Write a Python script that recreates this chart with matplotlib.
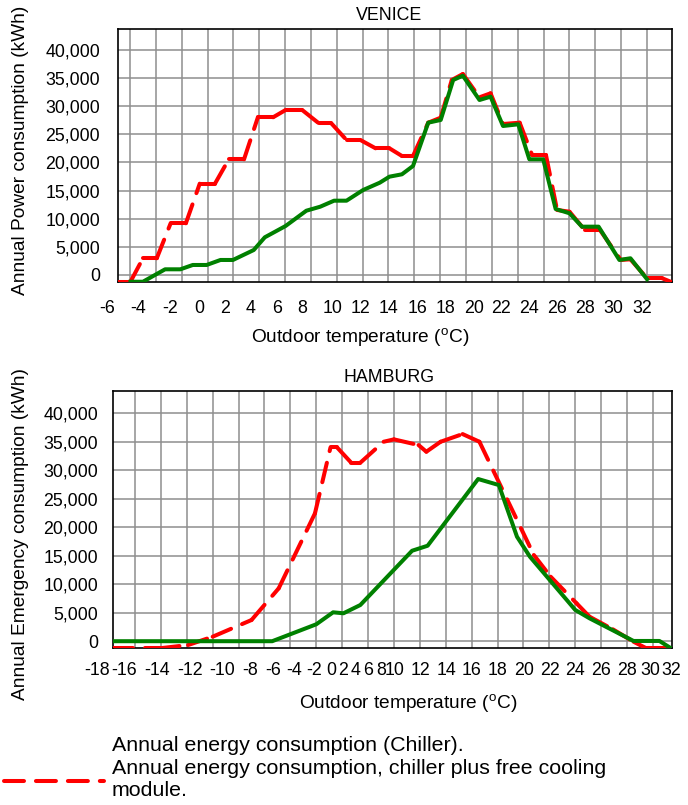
import numpy as np
import matplotlib.pyplot as plt
from matplotlib.lines import Line2D
from matplotlib.ticker import FuncFormatter

plt.rcParams['font.family'] = ['Liberation Sans', 'DejaVu Sans']
plt.rcParams['mathtext.fontset'] = 'custom'
plt.rcParams['mathtext.rm'] = 'Liberation Sans'
plt.rcParams['lines.scale_dashes'] = False

# Venice: chiller only (red dashed) and chiller + free cooling (green)
venice_t_chiller = [-6.0, -5.1, -4.2, -3.2, -2.2, -1.1, -0.1, 1.0, 2.0, 3.1,
                    4.1, 5.2, 6.1, 7.3, 8.5, 9.4, 10.5, 11.5, 12.6, 13.6,
                    14.5, 15.3, 16.4, 17.3, 18.1, 18.9, 20.1, 20.9, 21.8,
                    23.0, 23.9, 24.9, 25.7, 26.6, 27.7, 28.8, 30.3, 31.0,
                    32.2, 33.3, 34.0]
venice_chiller = [-1200, -1200, 2970, 2970, 9190, 9190, 16230, 16230, 20570, 20570,
                  28040, 28040, 29330, 29330, 26970, 26970, 24000, 24000, 22520, 22520,
                  21160, 21160, 27080, 27970, 34670, 35730, 31590, 32300, 26840,
                  27080, 21330, 21330, 11560, 11250, 8000, 8000, 2670, 2790,
                  -590, -590, -1300]
venice_t_free = [-5.1, -4.2, -2.6, -1.5, -0.6, 0.4, 1.4, 2.3, 3.8, 4.6,
                 6.1, 7.6, 8.6, 9.6, 10.5, 11.7, 12.9, 13.6, 14.5, 15.3,
                 16.4, 17.3, 18.2, 18.9, 20.1, 20.9, 21.8, 22.9, 23.7, 24.7,
                 25.6, 26.6, 27.5, 28.7, 30.2, 31.0, 32.2]
venice_free = [-1200, -1200, 1010, 1010, 1780, 1780, 2670, 2670, 4440, 6700,
               8710, 11430, 12140, 13210, 13210, 15110, 16410, 17480, 17900, 19380,
               27080, 27560, 34670, 35430, 31110, 31700, 26490, 26790, 20570, 20570,
               11730, 10970, 8590, 8590, 2670, 2970, -760]

# Hamburg
hamburg_t_chiller = [-11.7, -8.1, -5.9, -4.0, -1.0, 1.1, 3.9, 5.1, 5.6, 6.7,
                     7.4, 9.2, 10.0, 11.9, 12.5, 13.6, 15.3, 16.6, 20.8, 22.1,
                     24.1, 25.1, 26.9, 28.5, 29.4, 31.4]
hamburg_chiller = [-1250, -1250, -670, 790, 3720, 9280, 22450, 34030, 34030, 31330,
                   31330, 35010, 35430, 34430, 33260, 35010, 36360, 35010, 15130, 11320,
                   6650, 4300, 2090, -90, -1140, -1140]
hamburg_t_free = [-11.7, 0.6, 4.0, 5.3, 6.1, 7.4, 11.4, 12.6, 16.5, 18.1,
                  19.5, 20.5, 24.0, 25.1, 28.5, 30.5, 31.4]
hamburg_free = [0, 0, 2970, 5070, 4900, 6350, 15880, 16760, 28470, 27410,
                18340, 14830, 5480, 4020, 40, 40, -1250]

venice_labels = ['-6', '-4', '-2', '0', '2', '4', '6', '8', '10', '12', '14', '16',
                 '18', '20', '22', '24', '26', '28', '30', '32']
hamburg_labels = ['-18', '-16', '-14', '-12', '-10', '-8', '-6', '-4', '-2', '0', '2',
                  '4', '6', '8', '10', '12', '14', '16', '18', '20', '22', '24', '26',
                  '28', '30', '32']

# where the source put its x labels (pixels across the picture)
venice_label_px = [106.7, 138.3, 170, 199, 224.7, 250.7, 276.7, 301.7, 333, 360.7,
                   388.3, 417.7, 445.7, 474, 501, 529, 556.7, 585, 613.3, 642.3]
hamburg_label_px = [97, 124, 157, 190, 222, 250, 273, 294, 314, 331, 343.5, 356,
                    368.5, 381, 395, 420, 446, 471.7, 498, 523.7, 549.7, 575, 601,
                    627, 650, 671]

W, H = 688, 805
fig = plt.figure(figsize=(W / 100, H / 100), dpi=100)
FS = 12.8
RED = '#ff0000'
GREEN = '#008000'


def axes_px(l, t, r, b):
    return fig.add_axes([l / W, 1 - b / H, (r - l) / W, (b - t) / H])


def style(ax, xgrid, xlim, ylim, ypad):
    ax.set_xlim(*xlim)
    ax.set_ylim(*ylim)
    ax.set_yticks(np.arange(0, 40001, 5000))
    ax.yaxis.set_major_formatter(FuncFormatter(lambda v, p: f'{v:,.0f}'))
    ax.set_xticks(xgrid)
    ax.set_xticklabels([])
    ax.grid(True, color='#8e8e8e', lw=1.1)
    ax.set_axisbelow(True)
    ax.tick_params(length=0, labelsize=FS, pad=ypad)
    for s in ax.spines.values():
        s.set_linewidth(1.2)
        s.set_color('black')


def dashed(ax, x, y):
    # dash pattern restarts at every vertex, like the source chart
    for i in range(len(x) - 1):
        ax.plot(x[i:i + 2], y[i:i + 2], color=RED, lw=2.9, dashes=(14.4, 8.6),
                dash_capstyle='round', zorder=3)


def ftext(x, y, s, size=FS, **kw):
    fig.text(x / W, 1 - y / H, s, fontsize=size, **kw)


# ---- Venice
ax1 = axes_px(118, 29.3, 672, 282.3)
style(ax1, np.linspace(-5.13, 32.19, 21), (-6, 34), (-1300, 43680), 13)
dashed(ax1, venice_t_chiller, venice_chiller)
ax1.plot(venice_t_free, venice_free, color=GREEN, lw=2.9, zorder=4,
         solid_joinstyle='round')
for px, lab in zip(venice_label_px, venice_labels):
    ftext(px, 308, lab, ha='center', va='center')
ftext(389, 16, 'VENICE', ha='center', va='center')
ftext(360, 338, r'Outdoor temperature ($^{\rm o}$C)', size=13.8, ha='center', va='center')
ftext(21, 150, 'Annual Power consumption (kWh)', size=13.8, ha='center', va='center',
      rotation=90)

# ---- Hamburg
ax2 = axes_px(112.7, 391, 672, 647.7)
style(ax2, np.arange(-10, 31, 2), (-11.72, 31.47), (-1141, 43920), 10.5)
dashed(ax2, hamburg_t_chiller, hamburg_chiller)
ax2.plot(hamburg_t_free, hamburg_free, color=GREEN, lw=2.9, zorder=4,
         solid_joinstyle='round')
for px, lab in zip(hamburg_label_px, hamburg_labels):
    ftext(px, 670, lab, ha='center', va='center')
ftext(389, 377, 'HAMBURG', ha='center', va='center')
ftext(408, 704, r'Outdoor temperature ($^{\rm o}$C)', size=13.8, ha='center', va='center')
ftext(21, 534, 'Annual Emergency consumption (kWh)', size=13.8, ha='center', va='center',
      rotation=90)

# ---- legend
fig.add_artist(Line2D([4 / W, 104 / W], [1 - 781 / H] * 2, transform=fig.transFigure,
                      color=RED, lw=2.9, dashes=(14.4, 8.6), dash_capstyle='round'))
ftext(112, 745, 'Annual energy consumption (Chiller).', size=15.4, ha='left', va='center')
ftext(112, 768, 'Annual energy consumption, chiller plus free cooling', size=15.4,
      ha='left', va='center')
ftext(112, 790, 'module.', size=15.4, ha='left', va='center')

fig.savefig('out.png', dpi=100)
